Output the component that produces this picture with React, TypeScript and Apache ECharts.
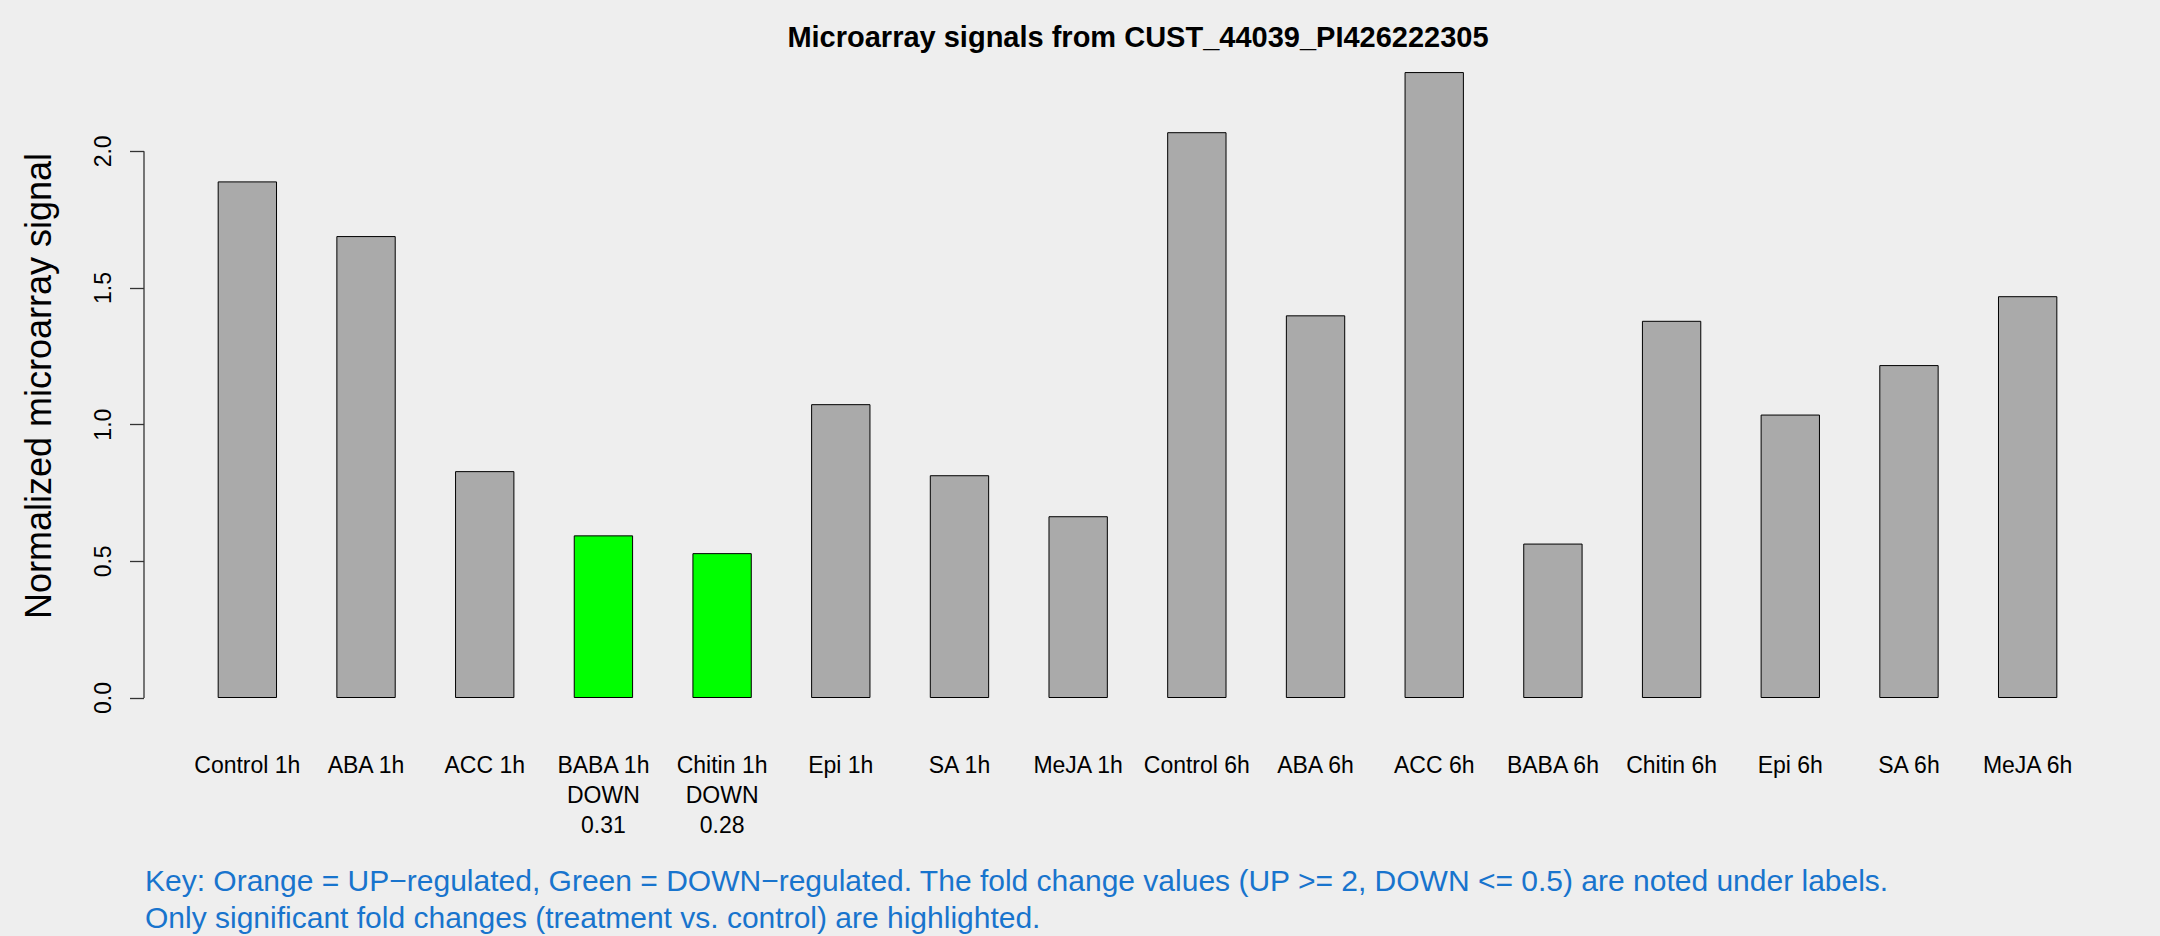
import React, { useEffect, useRef } from "react";
import * as echarts from "echarts";

const categories = [
  "Control 1h", "ABA 1h", "ACC 1h", "BABA 1h", "Chitin 1h", "Epi 1h", "SA 1h", "MeJA 1h",
  "Control 6h", "ABA 6h", "ACC 6h", "BABA 6h", "Chitin 6h", "Epi 6h", "SA 6h", "MeJA 6h",
];
const values = [1.89, 1.69, 0.83, 0.595, 0.53, 1.075, 0.815, 0.665, 2.07, 1.4, 2.29, 0.565, 1.38, 1.037, 1.218, 1.47];
const regulation = ["none", "none", "none", "down", "down", "none", "none", "none", "none", "none", "none", "none", "none", "none", "none", "none"];
const foldNotes = ["", "", "", "DOWN\n0.31", "DOWN\n0.28", "", "", "", "", "", "", "", "", "", "", ""];
const yTicks = [0, 0.5, 1, 1.5, 2];
const titleText = "Microarray signals from CUST_44039_PI426222305";
const yName = "Normalized microarray signal";
const keyLines = [
  "Key: Orange = UP\u2212regulated, Green = DOWN\u2212regulated. The fold change values (UP >= 2, DOWN <= 0.5) are noted under labels.",
  "Only significant fold changes (treatment vs. control) are highlighted.",
];

const colorFor: Record<string, string> = { none: "#AAAAAA", down: "#00FF00", up: "#FFA500" };
const FONT = "'Liberation Sans', Arial, Helvetica, sans-serif";

export default function App() {
  const ref = useRef<HTMLDivElement>(null);
  useEffect(() => {
    const chart = echarts.init(ref.current!, null, { renderer: "svg" });
    chart.setOption({
      animation: false,
      backgroundColor: "#EEEEEE",
      textStyle: { fontFamily: FONT },
      title: {
        text: titleText,
        left: 1138,
        top: 22,
        padding: 0,
        textAlign: "center",
        textStyle: { fontSize: 29, fontWeight: "bold", color: "#000", fontFamily: FONT },
      },
      grid: { left: 188, right: 73, top: 42, bottom: 238 },
      xAxis: {
        type: "category",
        data: categories,
        axisLine: { show: false },
        axisTick: { show: false },
        axisLabel: {
          interval: 0,
          margin: 52,
          fontSize: 23,
          lineHeight: 30,
          color: "#000",
          fontFamily: FONT,
          formatter: (v: string, i: number) => (foldNotes[i] ? v + "\n" + foldNotes[i] : v),
        },
      },
      yAxis: {
        type: "value",
        min: 0,
        max: 2.4,
        offset: 44,
        splitLine: { show: false },
        axisLine: { show: false },
        axisTick: { show: true, length: 14, customValues: yTicks, lineStyle: { color: "#333", width: 1.3 } },
        axisLabel: {
          customValues: yTicks,
          rotate: 90,
          margin: 30,
          fontSize: 23,
          color: "#000",
          fontFamily: FONT,
          formatter: (v: number) => v.toFixed(1),
        },
      },
      series: [
        {
          type: "bar",
          barWidth: "50%",
          data: values.map((v, i) => ({
            value: v,
            itemStyle: { color: colorFor[regulation[i]], borderColor: "#000", borderWidth: 1 },
          })),
        },
      ],
    });
    const y0 = chart.convertToPixel({ yAxisIndex: 0 }, yTicks[0]) as number;
    const yTop = chart.convertToPixel({ yAxisIndex: 0 }, yTicks[yTicks.length - 1]) as number;
    chart.setOption({
      graphic: [
        {
          type: "line",
          shape: { x1: 144, y1: y0, x2: 144, y2: yTop },
          style: { stroke: "#333", lineWidth: 1.3 },
        },
        {
          type: "text",
          x: 38,
          y: 386,
          rotation: Math.PI / 2,
          style: {
            text: yName,
            fontSize: 36,
            fontFamily: FONT,
            fill: "#000",
            textAlign: "center",
            textVerticalAlign: "middle",
          },
        },
        {
          type: "text",
          x: 145,
          y: 880,
          style: {
            text: keyLines[0],
            fontSize: 30,
            fontFamily: FONT,
            fill: "#1874CD",
            textAlign: "left",
            textVerticalAlign: "middle",
          },
        },
        {
          type: "text",
          x: 145,
          y: 917,
          style: {
            text: keyLines[1],
            fontSize: 30,
            fontFamily: FONT,
            fill: "#1874CD",
            textAlign: "left",
            textVerticalAlign: "middle",
          },
        },
      ],
    });
    return () => chart.dispose();
  }, []);
  return <div ref={ref} style={{ position: "fixed", left: 0, top: 0, width: 2160, height: 936 }} />;
}
